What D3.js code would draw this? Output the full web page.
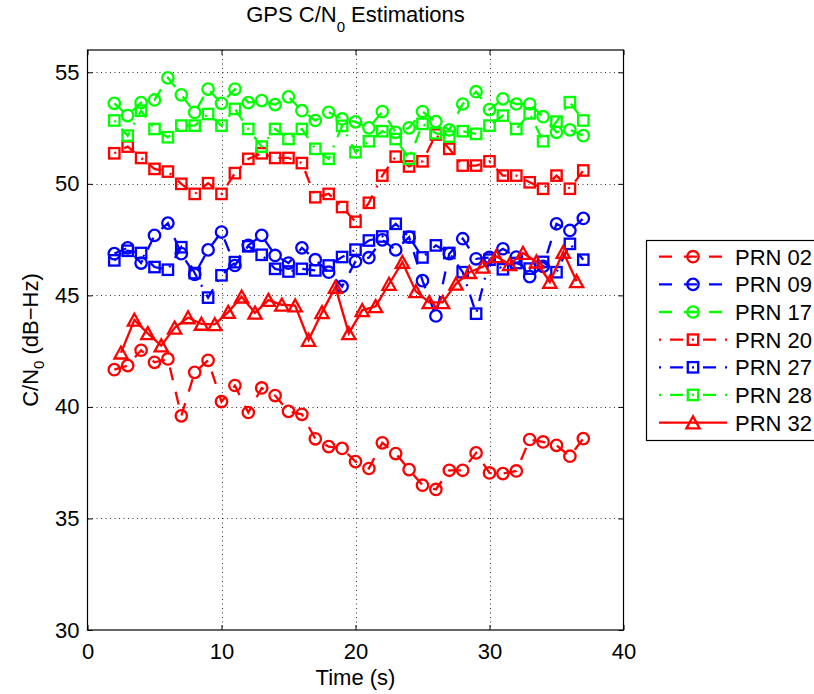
<!DOCTYPE html>
<html>
<head>
<meta charset="utf-8">
<script src="https://cdn.jsdelivr.net/npm/d3@7"></script>
<style>
  html, body { margin: 0; padding: 0; background: #fff; }
  svg { display: block; font-family: "Liberation Sans", Arial, Helvetica, sans-serif; }
</style>
</head>
<body>
<svg id="chart" width="814" height="694"></svg>
<script>
// ---------- data ----------
const timesInt = [2,3,4,5,6,7,8,9,10,11,12,13,14,15,16,17,18,19,20,21,22,23,24,25,26,27,28,29,30,31,32,33,34,35,36,37];
const timesHalf = [2.5,3.5,4.5,5.5,6.5,7.5,8.5,9.5,10.5,11.5,12.5,13.5,14.5,15.5,16.5,17.5,18.5,19.5,20.5,21.5,22.5,23.5,24.5,25.5,26.5,27.5,28.5,29.5,30.5,31.5,32.5,33.5,34.5,35.5,36.5];

const prn02 = [41.67,41.85,42.54,42.0,42.15,39.6,41.55,42.09,40.24,40.96,39.75,40.85,40.51,39.8,39.67,38.57,38.22,38.14,37.55,37.24,38.39,37.91,37.19,36.49,36.3,37.16,37.16,37.94,37.04,37.01,37.13,38.54,38.43,38.28,37.79,38.58];
const prn09 = [46.87,47.13,46.45,47.69,48.24,46.87,45.94,47.04,47.84,46.34,47.24,47.69,46.79,46.45,47.13,46.6,46.04,45.4,46.52,46.69,47.49,47.04,47.61,45.66,44.08,46.87,47.54,46.64,46.7,47.09,46.72,45.84,46.3,48.21,47.91,48.45];
const prn17 = [53.61,53.06,53.64,53.76,54.75,53.99,53.2,54.25,53.61,54.25,53.64,53.73,53.55,53.9,53.28,52.84,53.21,52.91,52.78,52.51,53.24,52.31,52.51,53.24,52.79,52.42,53.58,54.13,53.33,53.81,53.58,53.58,53.01,52.31,52.42,52.16];
const prn20 = [51.37,51.67,51.16,50.67,50.55,50.0,49.55,50.03,49.55,50.48,51.12,51.37,51.16,51.16,50.93,49.4,49.55,48.96,48.3,49.15,50.37,51.22,50.78,51.01,52.21,51.57,50.82,50.82,51.01,50.37,50.37,50.07,49.78,50.37,49.78,50.6];
const prn27 = [46.57,47.0,46.9,46.27,46.15,47.16,46.0,44.9,45.9,46.49,47.2,46.82,46.19,46.07,46.19,46.12,46.34,46.72,47.05,47.46,47.64,48.21,47.62,46.7,47.24,46.9,46.04,44.18,46.6,46.17,46.45,46.2,46.5,46.04,47.31,46.6];
const prn28 = [52.84,52.16,53.28,52.46,52.09,52.61,52.61,53.13,52.61,53.36,52.46,51.67,52.46,52.01,52.46,51.57,51.12,52.6,51.42,51.91,52.36,52.01,51.12,52.69,52.27,52.12,52.36,52.24,52.61,53.06,52.46,53.16,51.91,52.79,53.66,52.84];
const prn32 = [42.43,43.9,43.3,42.75,43.55,44.01,43.72,43.7,44.25,44.94,44.22,44.79,44.58,44.54,43.0,44.24,45.37,43.3,44.33,44.51,45.51,46.49,45.18,44.69,44.69,45.52,46.04,46.28,46.75,46.39,46.9,46.51,45.6,46.94,45.63];

const seriesNames = ["PRN 02","PRN 09","PRN 17","PRN 20","PRN 27","PRN 28","PRN 32"];
const xTicks = [0,10,20,30,40];
const yTicks = [30,35,40,45,50,55];

// ---------- styles ----------
const DASH = "13,12";
const DASHDOT = "2,9,13,9";
const SW = 2.3;
const series = [
  {name: seriesNames[0], t: timesInt,  v: prn02, color: "#ff0000", dash: DASH,    marker: "circle"},
  {name: seriesNames[1], t: timesInt,  v: prn09, color: "#0000ff", dash: DASH,    marker: "circle"},
  {name: seriesNames[2], t: timesInt,  v: prn17, color: "#00ff00", dash: DASH,    marker: "circle"},
  {name: seriesNames[3], t: timesInt,  v: prn20, color: "#ff0000", dash: DASHDOT, marker: "square"},
  {name: seriesNames[4], t: timesInt,  v: prn27, color: "#0000ff", dash: DASHDOT, marker: "square"},
  {name: seriesNames[5], t: timesInt,  v: prn28, color: "#00ff00", dash: DASHDOT, marker: "square"},
  {name: seriesNames[6], t: timesHalf, v: prn32, color: "#ff0000", dash: null,    marker: "triangle"}
];

const svg = d3.select("#chart");
const L = 87.5, R = 623.5, T = 50, B = 630;
const x = d3.scaleLinear().domain([0, 40]).range([L, R]);
const y = d3.scaleLinear().domain([30, 56]).range([B, T]);

svg.append("rect").attr("width", 814).attr("height", 694).attr("fill", "#fff");

// grid
const grid = svg.append("g").attr("stroke", "#000").attr("stroke-width", 0.8)
  .attr("stroke-dasharray", "1,3.5");
grid.selectAll("line.gx").data(xTicks.filter(d => d > 0 && d < 40)).join("line")
  .attr("x1", d => Math.round(x(d)) + 0.5).attr("x2", d => Math.round(x(d)) + 0.5)
  .attr("y1", T).attr("y2", B);
grid.selectAll("line.gy").data(yTicks.filter(d => d > 30)).join("line")
  .attr("y1", d => Math.round(y(d)) + 0.5).attr("y2", d => Math.round(y(d)) + 0.5)
  .attr("x1", L).attr("x2", R);

// axes
const fontSize = 22;
const axB = svg.append("g").attr("transform", `translate(0,${B})`)
  .call(d3.axisBottom(x).tickValues(xTicks).tickSizeInner(-5).tickSizeOuter(0).tickPadding(13).tickFormat(d3.format("d")));
const axT = svg.append("g").attr("transform", `translate(0,${T})`)
  .call(d3.axisTop(x).tickValues(xTicks).tickSizeInner(-5).tickSizeOuter(0).tickFormat(""));
const axLft = svg.append("g").attr("transform", `translate(${L},0)`)
  .call(d3.axisLeft(y).tickValues(yTicks).tickSizeInner(-5).tickSizeOuter(0).tickPadding(8).tickFormat(d3.format("d")));
const axRt = svg.append("g").attr("transform", `translate(${R},0)`)
  .call(d3.axisRight(y).tickValues(yTicks).tickSizeInner(-5).tickSizeOuter(0).tickFormat(""));
[axB, axT, axLft, axRt].forEach(g => {
  g.select(".domain").remove();
  g.selectAll("line").attr("stroke", "#000").attr("stroke-width", 1);
  g.selectAll("text").attr("font-size", fontSize).attr("fill", "#000")
    .attr("font-family", '"Liberation Sans", Arial, Helvetica, sans-serif');
});

// frame
svg.append("rect").attr("x", L).attr("y", T).attr("width", R - L).attr("height", B - T)
  .attr("fill", "none").attr("stroke", "#000").attr("stroke-width", 1.2);

// marker drawing
function drawMarker(sel, type, color) {
  if (type === "circle") {
    sel.append("circle").attr("r", 5.7).attr("fill", "none").attr("stroke", color).attr("stroke-width", SW);
  } else if (type === "square") {
    sel.append("rect").attr("x", -5.2).attr("y", -5.2).attr("width", 10.4).attr("height", 10.4)
      .attr("fill", "none").attr("stroke", color).attr("stroke-width", SW);
  } else {
    sel.append("path").attr("d", "M0,-6.2L6.6,5.8L-6.6,5.8Z")
      .attr("fill", "none").attr("stroke", color).attr("stroke-width", SW).attr("stroke-linejoin", "miter");
  }
}

// series
const line = d3.line().x(d => x(d[0])).y(d => y(d[1]));
series.forEach(s => {
  const pts = s.t.map((t, i) => [t, s.v[i]]);
  const g = svg.append("g");
  g.append("path").attr("d", line(pts)).attr("fill", "none").attr("stroke", s.color)
    .attr("stroke-width", SW).attr("stroke-dasharray", s.dash);
  g.selectAll("g.m").data(pts).join("g").attr("class", "m")
    .attr("transform", d => `translate(${x(d[0])},${y(d[1])})`)
    .each(function() { drawMarker(d3.select(this), s.marker, s.color); });
});

// title
const title = svg.append("text").attr("x", (L + R) / 2).attr("y", 22).attr("text-anchor", "middle")
  .attr("font-size", fontSize).attr("fill", "#000");
title.append("tspan").text("GPS C/N");
title.append("tspan").attr("font-size", 15).attr("dy", 10).text("0");
title.append("tspan").attr("dy", -10).text(" Estimations");

// x label
svg.append("text").attr("x", (L + R) / 2).attr("y", 685).attr("text-anchor", "middle")
  .attr("font-size", fontSize).attr("fill", "#000").text("Time (s)");

// y label
const yl = svg.append("text").attr("transform", `translate(38,${(T + B) / 2}) rotate(-90)`)
  .attr("text-anchor", "middle").attr("font-size", fontSize).attr("fill", "#000");
yl.append("tspan").text("C/N");
yl.append("tspan").attr("font-size", 15).attr("dy", 6).text("0");
yl.append("tspan").attr("dy", -6).text(" (dB\u2212Hz)");

// legend
const lg = svg.append("g");
lg.append("rect").attr("x", 646.5).attr("y", 240.5).attr("width", 180).attr("height", 200)
  .attr("fill", "#fff").attr("stroke", "#000").attr("stroke-width", 1.2);
series.forEach((s, i) => {
  const cy = 256.7 + i * 27.65;
  const row = lg.append("g");
  row.append("line").attr("x1", 659).attr("x2", 727).attr("y1", cy).attr("y2", cy)
    .attr("stroke", s.color).attr("stroke-width", SW).attr("stroke-dasharray", s.dash);
  const m = row.append("g").attr("transform", `translate(693,${cy})`);
  drawMarker(m, s.marker, s.color);
  row.append("text").attr("x", 735).attr("y", cy + 8).attr("font-size", fontSize)
    .attr("fill", "#000").text(s.name);
});
</script>
</body>
</html>
